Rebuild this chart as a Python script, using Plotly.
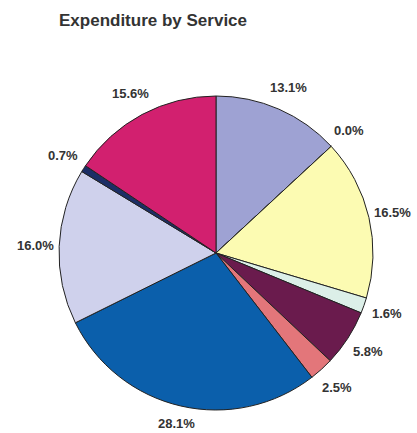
import math
import plotly.graph_objects as go

# Share of expenditure by service (percent), clockwise from 12 o'clock
services = ["Service A", "Service B", "Service C", "Service D", "Service E",
            "Service F", "Service G", "Service H", "Service I", "Service J"]
shares = [13.1, 0.0, 16.5, 1.6, 5.8, 2.5, 28.1, 16.0, 0.7, 15.6]
labels = ["13.1%", "0.0%", "16.5%", "1.6%", "5.8%", "2.5%", "28.1%", "16.0%", "0.7%", "15.6%"]
colors = ["#9ea2d3", "#ffffff", "#fcfbb2", "#dcefe8", "#6a1b4d",
          "#e3767a", "#0b5fab", "#cfd1ec", "#1c2e66", "#d2206f"]

W, H = 417, 433
cx, cy, r = 216, 253, 157          # pie centre and radius in pixels
label_r = 181                      # radius at which labels sit
label_nudge = {"28.1%": -6}        # pull the bottom label in so it stays on the page

fig = go.Figure(go.Pie(
    labels=services,
    values=shares,
    sort=False,
    direction="clockwise",
    rotation=0,
    marker=dict(colors=colors, line=dict(color="#222222", width=1)),
    textinfo="none",
    hoverinfo="label+percent",
    showlegend=False,
    domain=dict(x=[(cx - r) / W, (cx + r) / W],
                y=[1 - (cy + r) / H, 1 - (cy - r) / H]),
))

# percentage labels placed outside each slice, at its mid-angle
total = sum(shares)
cum = 0.0
annotations = []
for v, txt in zip(shares, labels):
    mid = (cum + v / 2) / total * 2 * math.pi
    cum += v
    lr = label_r + label_nudge.get(txt, 0)
    x = cx + lr * math.sin(mid)
    y = cy - lr * math.cos(mid)
    annotations.append(dict(
        x=x / W, y=1 - y / H, xref="paper", yref="paper",
        text="<b>" + txt + "</b>", showarrow=False,
        xanchor="center", yanchor="middle",
        font=dict(family="Liberation Sans, Arial", size=13, color="#333333"),
    ))

annotations.append(dict(
    x=57 / W, y=1 - 21 / H, xref="paper", yref="paper",
    text="<b>Expenditure by Service</b>", showarrow=False,
    xanchor="left", yanchor="middle",
    font=dict(family="Liberation Sans, Arial", size=17, color="#333333"),
))

fig.update_layout(
    width=W, height=H,
    margin=dict(l=0, r=0, t=0, b=0),
    paper_bgcolor="white", plot_bgcolor="white",
    annotations=annotations,
)

fig.write_html("out.html")
